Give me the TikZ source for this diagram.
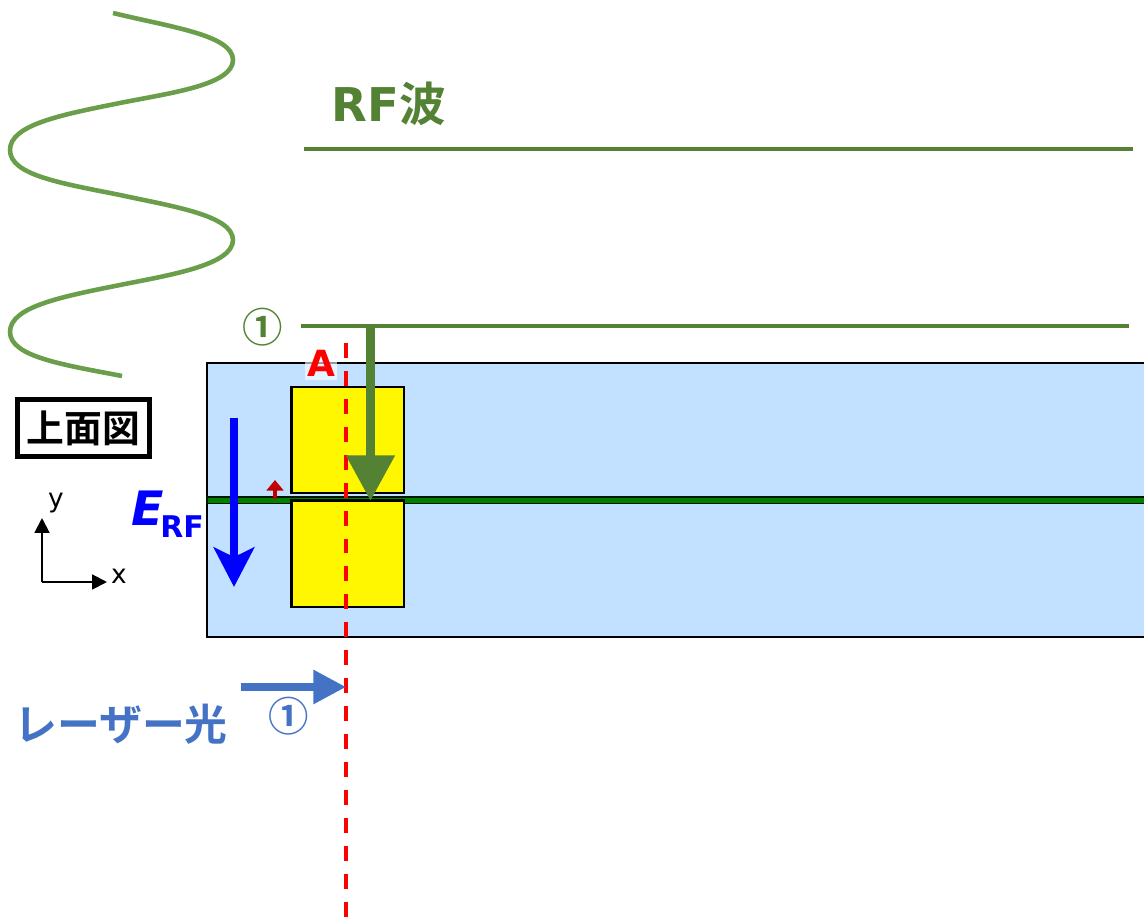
\documentclass[tikz,border=0pt]{standalone}
\usepackage{fontspec}
\setmainfont{DejaVu Sans}
\newfontfamily\jpfont{Noto Sans CJK JP}[BoldFont={Noto Sans CJK JP Bold}]
\usetikzlibrary{arrows.meta}
\definecolor{rfgreen}{RGB}{84,130,53}
\definecolor{wavegreen}{RGB}{106,158,74}
\definecolor{laserblue}{RGB}{68,114,196}
\definecolor{chipblue}{RGB}{194,224,255}
\definecolor{darkred}{RGB}{192,0,0}
\definecolor{guidegreen}{RGB}{0,128,0}
\definecolor{padyellow}{RGB}{255,247,0}
\tikzset{
  rfline/.style={rfgreen,line width=1.9pt},
  electrode/.style={draw=black,fill=padyellow,line width=1.2pt,outer sep=0pt,inner sep=0pt,anchor=north west,minimum width=64pt,minimum height=60.5pt},
  axisline/.style={line width=1.1pt,-{Triangle[length=8.5pt,width=8.5pt]}},
  axislabel/.style={font=\fontsize{15}{15}\selectfont,inner sep=0pt},
  circlenum/.style={font=\fontsize{23}{23}\selectfont\jpfont\bfseries,inner sep=0pt},
}
\begin{document}
\begin{tikzpicture}[x=0.02cm,y=-0.02cm]
\useasboundingbox (0,0) rectangle (1144,918);
% wave
\draw[wavegreen,line width=2.6pt] (113,13) .. controls (170,27) and (233,35) .. (233,60)
  .. controls (233,85) and (170,93) .. (120,103) .. controls (60,115) and (10,125) .. (10,150)
  .. controls (10,175) and (60,183) .. (120,195) .. controls (170,206) and (233,215) .. (233,240)
  .. controls (233,265) and (170,275) .. (120,285) .. controls (60,297) and (10,307) .. (10,332)
  .. controls (10,357) and (65,365) .. (122,376);
\node[rfgreen,anchor=base west,inner sep=0pt,font=\fontsize{26.5}{26.5}\selectfont\bfseries] (rftitle) at (331,122) {RF{\jpfont 波}};
\coordinate (rftopl) at (304,149);
\coordinate (rftopr) at (1133,149);
\draw[rfline] (rftopl) -- (rftopr);
\node[circlenum,rfgreen] (rfnum) at (263,327) {①};
\coordinate (rfl) at (301,326);
\coordinate (rfr) at (1129,326);
\draw[rfline] (rfl) -- (rfr);
% chip
\draw[fill=chipblue,line width=1.1pt] (1146,363) -- (207,363) -- (207,637) -- (1146,637);
\draw[black!80!guidegreen,fill=guidegreen,line width=0.6pt] (207,497) rectangle (1146,503.5);
\node[electrode] (upper) at (291.5,387) {};
\node[electrode] (lower) at (291.5,500.5) {};
\node[fill=white,fill opacity=0.6,text=red,text opacity=1,inner sep=1pt,minimum width=18pt,minimum height=19.5pt,font=\fontsize{20.5}{20.5}\selectfont\bfseries] (alabel) at (321,363) {A};
% cut line
\coordinate (cuttop) at (346,343);
\coordinate (cutbot) at (346,918);
\draw[red,line width=1.8pt,dash pattern=on 8.5pt off 7.4pt] (cuttop) -- (cutbot);
% arrows
\coordinate (fieldtop) at (234,418);
\coordinate (fieldbot) at (234,587);
\draw[blue,line width=4.6pt,-{Stealth[length=22.5pt,width=23pt,inset=5.5pt]}] (fieldtop) -- (fieldbot);
\coordinate (smallbot) at (275,499);
\coordinate (smalltop) at (275,480);
\draw[darkred,line width=2.8pt,-{Triangle[length=6pt,width=9.5pt]}] (smallbot) -- (smalltop);
\coordinate (rfarrowtop) at (370.5,326);
\coordinate (rfarrowbot) at (370.5,501);
\draw[rfgreen,line width=5.4pt,-{Triangle[length=26pt,width=26.5pt]}] (rfarrowtop) -- (rfarrowbot);
\coordinate (laserl) at (241,687);
\coordinate (laserr) at (346,687);
\draw[laserblue,line width=4pt,-{Triangle[length=18.5pt,width=18.5pt]}] (laserl) -- (laserr);
% labels
\node[blue,anchor=base west,inner sep=0pt,font=\fontsize{27}{27}\selectfont\bfseries\itshape] (efield) at (131,526) {E};
\node[blue,anchor=base west,inner sep=0pt,font=\fontsize{17}{17}\selectfont\bfseries] (efieldsub) at (160,538) {RF};
\node[draw=black,line width=2.8pt,minimum width=75.5pt,minimum height=32pt,inner sep=0pt,font=\fontsize{21.5}{21.5}\selectfont\jpfont\bfseries] (topview) at (83.5,428) {上面図};
\node[circlenum,laserblue] (lasernum) at (289,716) {①};
\node[laserblue,inner sep=0pt,font=\fontsize{24.4}{24.4}\selectfont\jpfont\bfseries] (laserlabel) at (121,724) {レーザー光};
% axes
\coordinate (origin) at (42,582);
\coordinate (yend) at (42,518);
\coordinate (xend) at (107,582);
\draw[axisline] (origin) -- (yend);
\draw[axisline] (origin) -- (xend);
\node[axislabel] (ylabel) at (56,503) {y};
\node[axislabel] (xlabel) at (119,576) {x};
\end{tikzpicture}
\end{document}
